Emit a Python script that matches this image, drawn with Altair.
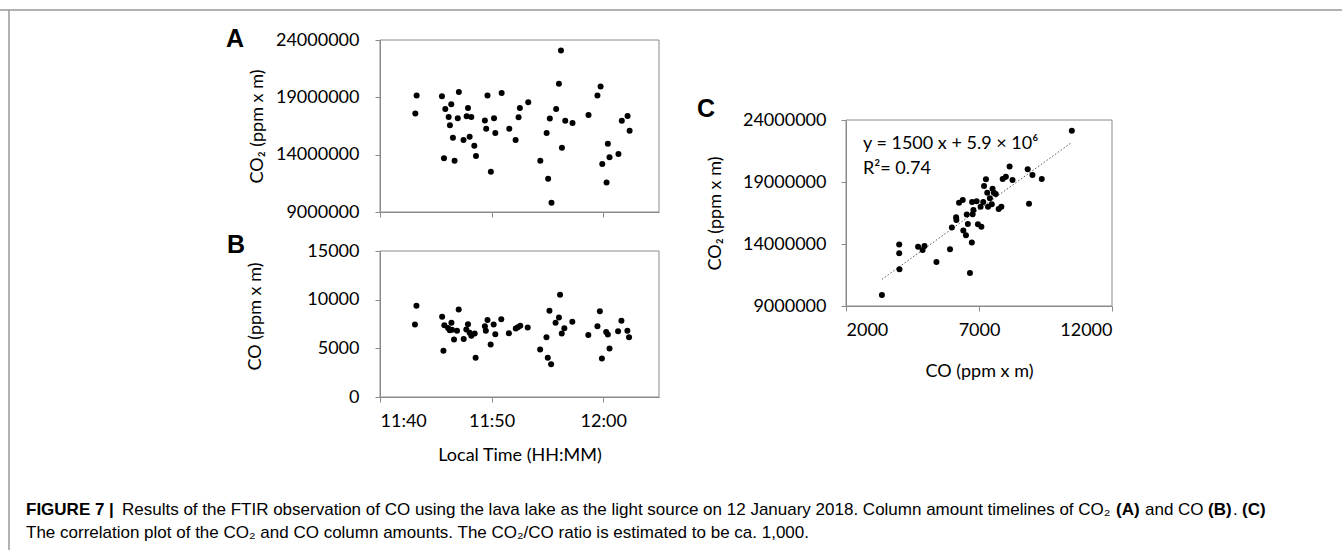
import altair as alt
import pandas as pd

# ---------------- data ----------------
# Panel A: CO2 column amount timeline (ppm x m)
a_time = ["11:43:17","11:43:10","11:45:33","11:45:51","11:46:23","11:45:44","11:46:09","11:46:16",
          "11:46:32","11:46:41","11:47:04","11:46:58","11:47:29","11:47:53","11:47:46","11:48:11",
          "11:48:02","11:48:27","11:48:36","11:49:38","11:49:24","11:49:31","11:50:13","11:50:20",
          "11:49:56","11:50:54","11:51:35","11:52:09","11:52:25","11:52:32","11:53:17","11:54:22",
          "11:54:56","11:55:13","11:55:04","11:55:22","11:55:47","11:56:02","11:56:13","11:56:18",
          "11:56:36","11:57:15","11:58:41","11:59:29","11:59:46","11:59:55","12:00:18","12:00:25",
          "12:00:34","12:01:22","12:01:40","12:02:11","12:02:22"]
a_co2 = [19170000,17580000,19090000,17990000,18390000,13680000,17290000,16570000,
         15470000,13480000,19460000,17180000,15270000,18080000,17350000,17290000,
         15560000,14780000,13880000,19170000,16980000,16250000,17180000,15880000,
         12500000,19380000,16250000,15270000,17270000,18080000,18570000,13480000,
         15880000,17150000,11890000,9810000,17990000,20180000,23080000,14610000,
         16950000,16770000,17470000,19170000,19950000,13190000,11570000,14950000,
         13770000,14060000,16950000,17380000,16080000]

# Panel B: CO column amount timeline (ppm x m)
b_time = ["11:43:16","11:43:08","11:45:34","11:45:46","11:46:24","11:45:41","11:46:06","11:46:15",
          "11:46:38","11:47:03","11:46:54","11:47:30","11:47:53","11:47:44","11:48:11","11:48:02",
          "11:48:29","11:48:34","11:49:38","11:49:24","11:49:29","11:50:11","11:50:20","11:49:55",
          "11:50:52","11:51:33","11:52:10","11:52:21","11:52:34","11:53:14","11:54:21","11:54:55",
          "11:55:11","11:55:02","11:55:20","11:55:44","11:56:02","11:56:08","11:56:17","11:56:31",
          "11:57:14","11:58:40","11:59:29","11:59:42","11:59:53","12:00:16","12:00:25","12:00:34",
          "12:01:20","12:01:38","12:02:10","12:02:19","11:46:27"]
b_co = [9370,7450,8240,7380,7620,4740,7100,6870,5900,8990,6800,5970,7480,6930,6280,6590,
        6520,4020,7900,7280,6800,7450,6450,5390,8000,6560,7040,7170,7310,7140,4870,6140,
        8860,4020,3360,7620,8170,10500,6520,7070,7720,6380,7280,8820,3950,6690,6420,4980,
        6760,7830,6800,6140,6900]

# Panel C: correlation CO vs CO2
c_co = [10490,3350,4000,4000,4010,4710,4880,4950,5400,5910,5980,6140,6150,6250,6390,6410,
        6510,6540,6580,6660,6730,6740,6760,6790,6910,6960,7090,7060,7160,7190,7260,7310,
        7340,7410,7480,7510,7560,7630,7740,7840,7890,8010,8150,8260,8830,8880,9010,9360]
c_co2 = [23140000,9890000,13250000,13950000,11960000,13780000,13520000,13840000,12550000,
         13570000,15340000,16150000,15940000,17330000,17550000,15080000,14700000,16370000,
         15610000,11660000,14130000,17390000,16390000,16740000,17440000,15590000,15400000,
         17010000,17390000,18680000,19220000,18140000,17010000,17680000,17200000,18460000,
         18140000,18030000,16820000,17010000,19240000,19430000,20240000,19160000,20020000,
         17250000,19560000,19240000]

# fitted line end points (dotted trend line)
trend_co = [3350, 10490]
trend_co2 = [11150000, 22200000]

# axis ranges / ticks
time_start, time_end = "11:40:00", "12:05:00"
time_ticks = [(11, 40), (11, 50), (12, 0)]
co2_ticks = [9000000, 14000000, 19000000, 24000000]
co_ticks = [0, 5000, 10000, 15000]
cox_ticks = [2000, 7000, 12000]

# ---------------- build ----------------
DAY = "2018-01-12T"
FONT = "Lato"
GRAY = "#8a8a8a"
W, H = 1342, 550

dfA = pd.DataFrame({"time": [DAY + t for t in a_time], "co2": a_co2})
dfB = pd.DataFrame({"time": [DAY + t for t in b_time], "co": b_co})
dfC = pd.DataFrame({"co": c_co, "co2": c_co2})
dfT = pd.DataFrame({"co": trend_co, "co2": trend_co2})

def dt(h, m):
    return alt.DateTime(year=2018, month=1, date=12, hours=h, minutes=m)

time_dom = [dt(11, 40), dt(12, 5)]
tick_vals = [dt(h, m) for h, m in time_ticks]

common_axis = dict(labelFont=FONT, labelFontSize=18, labelColor="black",
                   titleFont=FONT, titleFontSize=18, titleColor="black",
                   titleFontWeight="normal", domainColor=GRAY, tickColor=GRAY,
                   tickSize=5, grid=False, domainWidth=1, tickWidth=1)

# plot-area pixel boxes
AX0, AX1 = 380, 659
A_Y0, A_Y1 = 40, 212
B_Y0, B_Y1 = 251, 397
CX0, CX1 = 846, 1112
C_Y0, C_Y1 = 120, 306
DOT = 36

# ---- Panel A
xA = alt.X("time:T", scale=alt.Scale(domain=time_dom, range=[AX0, AX1]),
           axis=alt.Axis(orient="bottom", offset=A_Y1 - H, values=tick_vals, labels=False,
                         title=None, **common_axis))
yA = alt.Y("co2:Q", scale=alt.Scale(domain=[9000000, 24000000], range=[A_Y1, A_Y0], nice=False, zero=False),
           axis=alt.Axis(orient="left", offset=-AX0, values=co2_ticks, format="d", labelPadding=16,
                         title="CO₂ (ppm x m)", titleX=257 - AX0, titleBaseline="middle", **common_axis))
frameA = pd.DataFrame({"time": [DAY + time_start], "time2": [DAY + time_end],
                       "co2": [9000000], "co2b": [24000000]})
panelA = alt.layer(
    alt.Chart(frameA).mark_rect(fillOpacity=0, stroke=GRAY, strokeWidth=1).encode(
        x=xA, x2="time2:T", y=yA, y2="co2b:Q"),
    alt.Chart(dfA).mark_circle(size=DOT, color="black", opacity=1).encode(x=xA, y=yA),
)

# ---- Panel B
xB = alt.X("time:T", scale=alt.Scale(domain=time_dom, range=[AX0, AX1]),
           axis=alt.Axis(orient="bottom", offset=B_Y1 - H, values=tick_vals, format="%H:%M",
                         labelPadding=10, title="Local Time (HH:MM)", titleY=58,
                         titleBaseline="middle", **common_axis))
yB = alt.Y("co:Q", scale=alt.Scale(domain=[0, 15000], range=[B_Y1, B_Y0], nice=False),
           axis=alt.Axis(orient="left", offset=-AX0, values=co_ticks, format="d", labelPadding=16,
                         title="CO (ppm x m)", titleX=255 - AX0, titleY=316,
                         titleBaseline="middle", **common_axis))
frameB = pd.DataFrame({"time": [DAY + time_start], "time2": [DAY + time_end],
                       "co": [0], "cob": [15000]})
panelB = alt.layer(
    alt.Chart(frameB).mark_rect(fillOpacity=0, stroke=GRAY, strokeWidth=1).encode(
        x=xB, x2="time2:T", y=yB, y2="cob:Q"),
    alt.Chart(dfB).mark_circle(size=DOT, color="black", opacity=1).encode(x=xB, y=yB),
)

# ---- Panel C
xC = alt.X("co:Q", scale=alt.Scale(domain=[2000, 12000], range=[CX0, CX1], nice=False, zero=False),
           axis=alt.Axis(orient="bottom", offset=C_Y1 - H, values=cox_ticks, format="d",
                         labelPadding=10, title="CO (ppm x m)", titleY=65,
                         titleBaseline="middle", **common_axis))
yC = alt.Y("co2:Q", scale=alt.Scale(domain=[9000000, 24000000], range=[C_Y1, C_Y0], nice=False, zero=False),
           axis=alt.Axis(orient="left", offset=-CX0, values=co2_ticks, format="d", labelPadding=15,
                         title="CO₂ (ppm x m)", titleX=715 - CX0, titleBaseline="middle", **common_axis))
frameC = pd.DataFrame({"co": [2000], "cob": [12000], "co2": [9000000], "co2b": [24000000]})
panelC = alt.layer(
    alt.Chart(frameC).mark_rect(fillOpacity=0, stroke=GRAY, strokeWidth=1).encode(
        x=xC, x2="cob:Q", y=yC, y2="co2b:Q"),
    alt.Chart(dfT).mark_line(color="#555555", strokeWidth=1, strokeDash=[1.5, 2]).encode(x=xC, y=yC),
    alt.Chart(dfC).mark_circle(size=DOT, color="black", opacity=1).encode(x=xC, y=yC),
)

# ---- text & decorations
ONE = alt.Data(values=[{"k": 1}])

def label(txt, x, y, size, weight="normal", font=FONT, align="left", baseline="alphabetic"):
    return alt.Chart(ONE).mark_text(text=txt, align=align, baseline=baseline, fontSize=size,
                                    fontWeight=weight, font=font, color="black").encode(
        x=alt.value(x), y=alt.value(y))

CAP = "Liberation Sans"
CS = 17
L1, L2 = 515, 538
texts = [
    label("A", 226, 47, 25, "bold", "Liberation Sans"),
    label("B", 227, 253, 25, "bold", "Liberation Sans"),
    label("C", 697, 117, 25, "bold", "Liberation Sans"),
    label("y = 1500 x + 5.9 × 10⁶", 863, 149, 18),
    label("R²= 0.74", 863, 174, 18),
    label("FIGURE 7 |", 26, L1, CS, "bold", CAP),
    label("Results of the FTIR observation of CO using the lava lake as the light source on 12 January 2018. Column amount timelines of CO₂",
          122, L1, CS, "normal", CAP),
    label("(A)", 1116, L1, CS, "bold", CAP),
    label("and CO", 1145, L1, CS, "normal", CAP),
    label("(B)", 1208, L1, CS, "bold", CAP),
    label(".", 1233, L1, CS, "normal", CAP),
    label("(C)", 1242, L1, CS, "bold", CAP),
    label("The correlation plot of the CO₂ and CO column amounts. The CO₂/CO ratio is estimated to be ca. 1,000.",
          26, L2, CS, "normal", CAP),
]

frame_lines = [
    alt.Chart(ONE).mark_rule(color="#999999", strokeWidth=1.5).encode(
        x=alt.value(0), x2=alt.value(W), y=alt.value(10)),
    alt.Chart(ONE).mark_rule(color="#999999", strokeWidth=1.5).encode(
        x=alt.value(9), y=alt.value(10), y2=alt.value(H)),
]

chart = alt.layer(panelA, panelB, panelC, *frame_lines, *texts).resolve_scale(
    x="independent", y="independent"
).properties(
    width=W, height=H, padding=0,
    autosize=alt.AutoSizeParams(type="none"),
    background="white",
).configure_view(strokeWidth=0)

chart.save("out.html", embed_options={"renderer": "svg", "actions": False})
